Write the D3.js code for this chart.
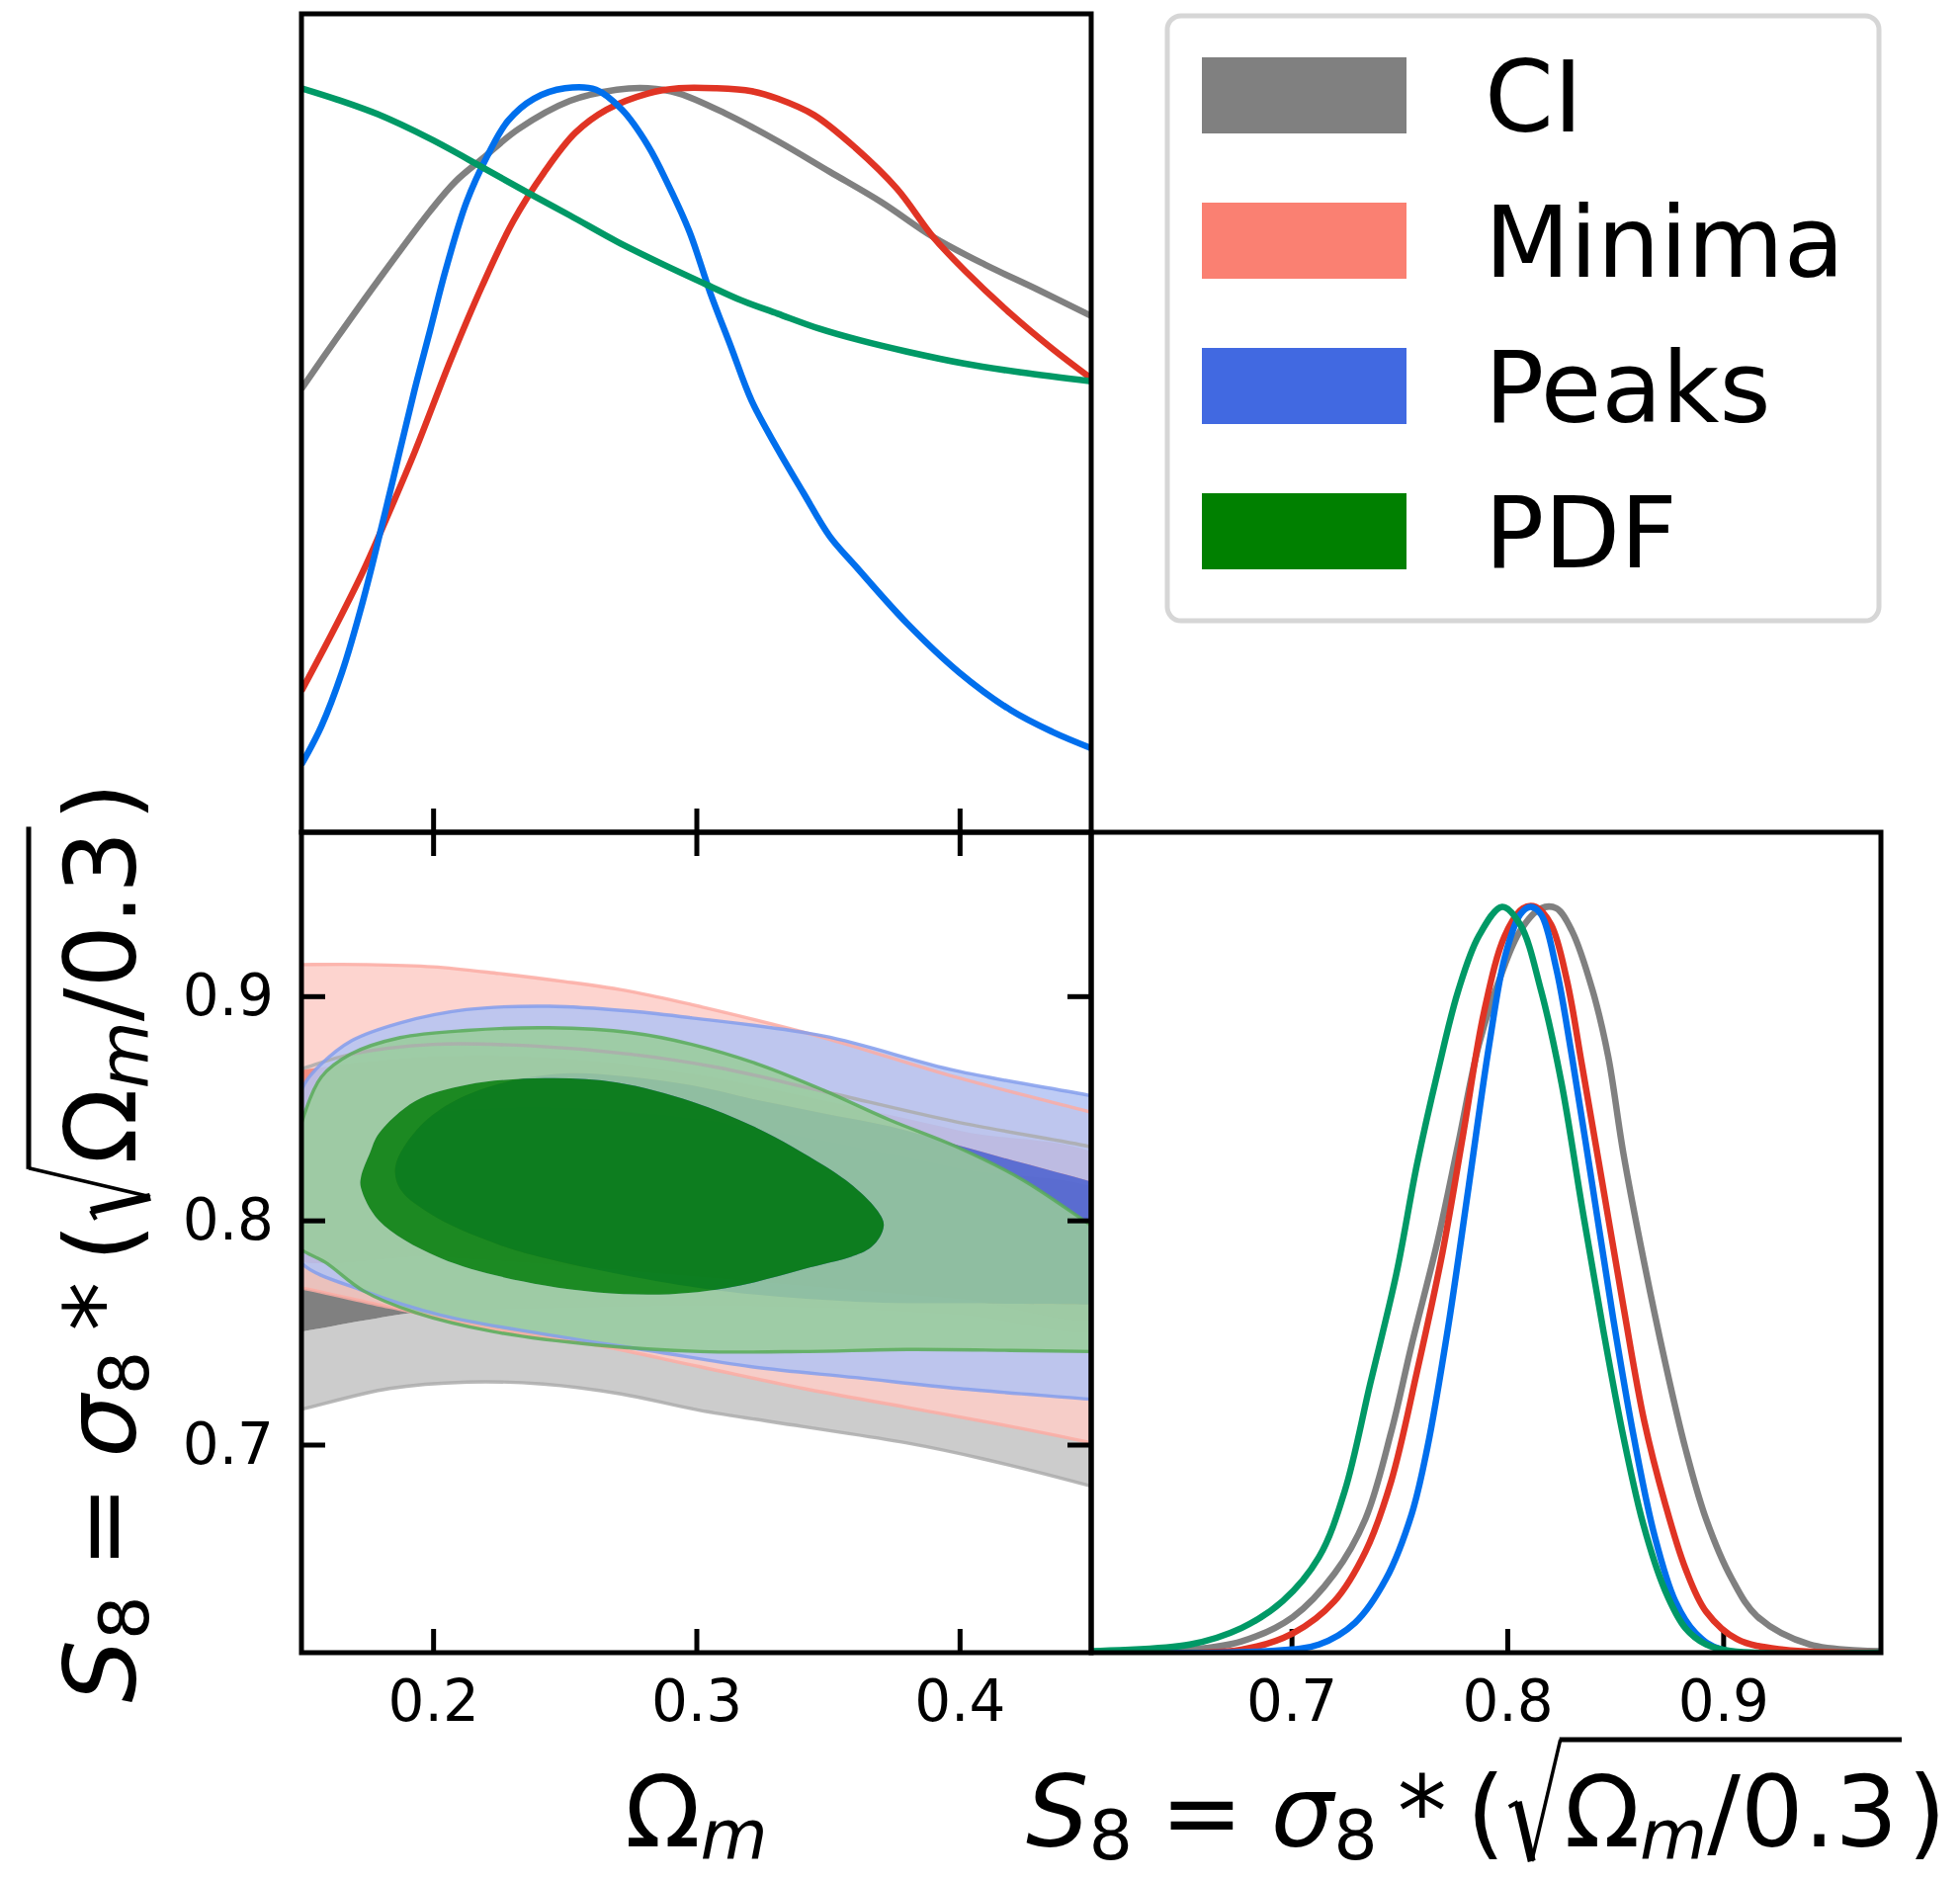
<!DOCTYPE html>
<html>
<head>
<meta charset="utf-8">
<script src="https://cdn.jsdelivr.net/npm/d3@7"></script>
<style>
  body { margin: 0; background: #fff; }
  svg { display: block; }
  text { font-family: "DejaVu Sans"; fill: #000; }
</style>
</head>
<body>
<script>
// ---- data ----
const series = ["CI", "Minima", "Peaks", "PDF"];
const lineColors = ["#808080", "#E03424", "#006FED", "#009966"];
const fillColors = ["#808080", "#FA8072", "#4169E1", "#008000"];
const omTicks = [0.2, 0.3, 0.4];
const s8Ticks = [0.7, 0.8, 0.9];

// 1D marginal of Omega_m (normalised to peak = 1)
const ciOmPdf = [[0.15,0.596],[0.1634,0.664],[0.179,0.741],[0.1989,0.835],[0.2086,0.875],[0.2186,0.905],[0.2324,0.945],[0.252,0.983],[0.2698,0.998],[0.2816,1.0],[0.2934,0.993],[0.3111,0.966],[0.3309,0.929],[0.3506,0.888],[0.3703,0.847],[0.39,0.80],[0.4096,0.763],[0.4293,0.73],[0.45,0.694]];
const minOmPdf = [[0.15,0.19],[0.1614,0.266],[0.1733,0.35],[0.1811,0.412],[0.193,0.511],[0.2067,0.635],[0.2186,0.734],[0.2304,0.821],[0.2422,0.887],[0.254,0.94],[0.2658,0.971],[0.2816,0.993],[0.2934,1.0],[0.3072,1.0],[0.321,0.996],[0.3309,0.986],[0.3447,0.964],[0.3604,0.92],[0.3762,0.865],[0.39,0.80],[0.4017,0.756],[0.4194,0.697],[0.4352,0.65],[0.45,0.61]];
const peaksOmPdf = [[0.15,0.091],[0.1575,0.142],[0.1654,0.215],[0.1733,0.31],[0.1811,0.42],[0.187,0.507],[0.193,0.595],[0.1989,0.675],[0.2048,0.756],[0.2127,0.847],[0.2206,0.909],[0.2284,0.956],[0.2383,0.986],[0.2501,1.0],[0.2619,0.998],[0.2718,0.971],[0.2816,0.923],[0.2895,0.869],[0.2974,0.807],[0.3052,0.726],[0.3131,0.653],[0.321,0.58],[0.3309,0.515],[0.3407,0.456],[0.3506,0.398],[0.3604,0.358],[0.38,0.281],[0.3998,0.215],[0.4195,0.164],[0.4352,0.135],[0.45,0.113]];
const pdfOmPdf = [[0.15,1.0],[0.1634,0.985],[0.179,0.965],[0.1989,0.932],[0.2186,0.894],[0.2363,0.859],[0.252,0.829],[0.2698,0.794],[0.2875,0.763],[0.3033,0.737],[0.317,0.715],[0.3309,0.697],[0.3466,0.677],[0.3624,0.661],[0.38,0.646],[0.4017,0.63],[0.4234,0.618],[0.45,0.606]];

// 1D marginal of S8
const ciS8Pdf = [[0.6072,0.0],[0.6529,0.004],[0.6768,0.015],[0.7007,0.048],[0.7199,0.106],[0.7342,0.179],[0.7462,0.296],[0.7557,0.413],[0.7677,0.552],[0.7773,0.683],[0.7868,0.815],[0.7964,0.903],[0.806,0.968],[0.8156,0.998],[0.8227,0.998],[0.8299,0.968],[0.8395,0.888],[0.8467,0.80],[0.8538,0.669],[0.8634,0.523],[0.873,0.391],[0.8825,0.274],[0.8921,0.179],[0.904,0.099],[0.916,0.048],[0.94,0.011],[0.9731,0.002]];
const minS8Pdf = [[0.6072,0.0],[0.6768,0.004],[0.7007,0.026],[0.7199,0.069],[0.7342,0.135],[0.7462,0.23],[0.7581,0.376],[0.77,0.537],[0.7797,0.698],[0.7892,0.859],[0.7988,0.961],[0.8072,0.998],[0.8132,1.0],[0.8203,0.976],[0.8275,0.903],[0.8347,0.786],[0.8443,0.625],[0.8538,0.464],[0.8634,0.311],[0.873,0.201],[0.8825,0.113],[0.8921,0.055],[0.9065,0.018],[0.928,0.004],[0.9731,0.0]];
const peaksS8Pdf = [[0.6072,0.0],[0.6888,0.002],[0.7127,0.011],[0.7294,0.04],[0.7438,0.099],[0.7557,0.186],[0.7629,0.274],[0.7725,0.435],[0.7821,0.625],[0.7916,0.815],[0.7988,0.932],[0.806,0.99],[0.8108,1.0],[0.8156,0.99],[0.8227,0.917],[0.8299,0.80],[0.8395,0.625],[0.849,0.449],[0.8586,0.289],[0.8682,0.157],[0.8778,0.069],[0.8873,0.026],[0.8993,0.004],[0.9731,0.0]];
const pdfS8Pdf = [[0.6072,0.002],[0.6529,0.011],[0.6768,0.033],[0.6959,0.069],[0.7127,0.128],[0.7246,0.216],[0.7366,0.362],[0.7486,0.508],[0.7581,0.654],[0.7677,0.778],[0.7773,0.888],[0.7868,0.961],[0.7976,1.0],[0.806,0.976],[0.8156,0.888],[0.8251,0.764],[0.8347,0.596],[0.8443,0.435],[0.8538,0.289],[0.863,0.172],[0.873,0.084],[0.8825,0.033],[0.8921,0.011],[0.904,0.002],[0.9731,0.0]];

// 2D contours (Omega_m, S8), closed rings: outer = 95%, inner = 68%
const ciOuter = [[0.14,0.864],[0.1503,0.8677],[0.1688,0.8741],[0.2,0.8785],[0.2376,0.8778],[0.2752,0.8741],[0.3077,0.8683],[0.3484,0.8575],[0.3985,0.844],[0.4491,0.833],[0.46,0.83],
                 [0.46,0.678],[0.4498,0.6815],[0.409,0.6936],[0.3796,0.7008],[0.3402,0.7081],[0.3009,0.7154],[0.2714,0.7226],[0.2419,0.727],[0.2129,0.7279],[0.1834,0.725],[0.1503,0.7158],[0.14,0.713]];
const ciInner = [[0.14,0.836],[0.2,0.848],[0.25,0.85],[0.3,0.845],[0.35,0.835],[0.4,0.823],[0.46,0.808],
                 [0.46,0.754],[0.4,0.758],[0.35,0.761],[0.3,0.762],[0.25,0.761],[0.1932,0.7589],[0.1735,0.7553],[0.15,0.7504],[0.14,0.749]];
const minOuter = [[0.14,0.914],[0.15,0.9141],[0.175,0.9141],[0.2,0.9131],[0.2251,0.9101],[0.2501,0.9065],[0.2752,0.9021],[0.2983,0.8962],[0.3484,0.8815],[0.3985,0.8639],[0.4491,0.8485],[0.46,0.845],
                  [0.46,0.698],[0.4499,0.7008],[0.4194,0.7081],[0.38,0.7166],[0.3407,0.725],[0.3014,0.7347],[0.262,0.7444],[0.2227,0.7516],[0.1834,0.7613],[0.1503,0.7698],[0.14,0.772]];
const minInner = [[0.14,0.865],[0.15,0.867],[0.2,0.873],[0.25,0.872],[0.3,0.865],[0.35,0.853],[0.4,0.84],[0.46,0.823],
                  [0.46,0.759],[0.4,0.765],[0.35,0.77],[0.3,0.775],[0.25,0.78],[0.2,0.784],[0.14,0.787]];
const peaksOuter = [[0.1512,0.8609],[0.1575,0.8697],[0.1688,0.88],[0.1875,0.8881],[0.2126,0.894],[0.2439,0.8955],[0.2752,0.8933],[0.2983,0.8903],[0.3484,0.8822],[0.3985,0.8668],[0.4491,0.8558],[0.46,0.853],
                    [0.46,0.719],[0.4499,0.7202],[0.3997,0.725],[0.3604,0.7299],[0.321,0.7347],[0.2817,0.742],[0.2424,0.7492],[0.203,0.7577],[0.1735,0.7686],[0.1503,0.7807],[0.1475,0.79],[0.146,0.82],[0.147,0.845]];
const peaksInner = [[0.1857,0.8242],[0.1938,0.8404],[0.2063,0.8521],[0.2251,0.8609],[0.25,0.8655],[0.275,0.864],[0.2983,0.8602],[0.3234,0.8536],[0.3484,0.8477],[0.3734,0.8419],[0.3985,0.8338],[0.4235,0.8257],[0.4491,0.8176],[0.46,0.814],
                    [0.46,0.762],[0.45,0.7625],[0.4,0.763],[0.3604,0.7637],[0.3014,0.7698],[0.2376,0.7846],[0.2188,0.7919],[0.2,0.8022],[0.1875,0.814]];
const pdfOuter = [[0.1512,0.8477],[0.1575,0.8639],[0.1688,0.8742],[0.1875,0.8815],[0.2126,0.8847],[0.2439,0.8859],[0.2752,0.8837],[0.2983,0.8785],[0.3234,0.8697],[0.3484,0.858],[0.3734,0.8448],[0.3985,0.833],[0.4235,0.8184],[0.4491,0.7985],[0.46,0.79],
                  [0.46,0.7415],[0.45,0.7415],[0.4194,0.742],[0.38,0.7424],[0.3407,0.7415],[0.3014,0.7415],[0.262,0.7444],[0.2227,0.7504],[0.1932,0.7589],[0.1735,0.7686],[0.1598,0.7807],[0.1475,0.79],[0.146,0.81],[0.1475,0.83]];
const pdfInner = [[0.1726,0.8193],[0.176,0.83],[0.1794,0.8387],[0.1932,0.8532],[0.2129,0.8605],[0.2424,0.8634],[0.27,0.8615],[0.2983,0.853],[0.3234,0.841],[0.3484,0.8245],[0.3609,0.814],[0.369,0.804],[0.3712,0.7976],[0.3663,0.7879],[0.3407,0.7782],[0.3112,0.7698],[0.2817,0.7669],[0.2424,0.771],[0.203,0.7831],[0.1794,0.8],[0.1726,0.8145]];

const omPdfs = [ciOmPdf, minOmPdf, peaksOmPdf, pdfOmPdf];
const s8Pdfs = [ciS8Pdf, minS8Pdf, peaksS8Pdf, pdfS8Pdf];
const outers = [ciOuter, minOuter, peaksOuter, pdfOuter];
const inners = [ciInner, minInner, peaksInner, pdfInner];

// ---- layout ----
const W = 1983, H = 1902;
const xL = 305, xM = 1104, xR = 1903, yT = 14, yM = 842, yB = 1672;
const omDomain = [0.15, 0.45], s8Domain = [0.6072, 0.9731];

const svg = d3.select("body").append("svg").attr("width", W).attr("height", H);

const xOm = d3.scaleLinear().domain(omDomain).range([xL, xM]);
const yS8 = d3.scaleLinear().domain(s8Domain).range([yB, yM]);
const xS8 = d3.scaleLinear().domain(s8Domain).range([xM, xR]);
const yTop = d3.scaleLinear().domain([0, 1.1]).range([yM, yT]);
const yBR = d3.scaleLinear().domain([0, 1.1]).range([yB, yM]);

const defs = svg.append("defs");
function clip(id, x, y, w, h) {
  defs.append("clipPath").attr("id", id).append("rect").attr("x", x).attr("y", y).attr("width", w).attr("height", h);
  return `url(#${id})`;
}
const clipTop = clip("cTop", xL, yT, xM - xL, yM - yT);
const clip2d = clip("c2d", xL, yM, xM - xL, yB - yM);
const clipBR = clip("cBR", xM, yM, xR - xM, yB - yM);

function styleAxis(g) {
  g.select(".domain").remove();
  g.selectAll(".tick line").attr("stroke", "#000").attr("stroke-width", 5);
  g.attr("font-size", 58).attr("font-family", "DejaVu Sans");
  g.selectAll(".tick text").attr("fill", "#000");
}
const fmt = d3.format(".1f");

// ---- 2D panel: filled contours ----
const ring = d3.line().x(d => xOm(d[0])).y(d => yS8(d[1])).curve(d3.curveCatmullRomClosed.alpha(0.5));
const g2d = svg.append("g").attr("clip-path", clip2d);
outers.forEach((o, i) => {
  const op = i === 0 ? 1 : 0.85;
  const pale = d3.interpolateRgb(fillColors[i], "#fff")(0.6);
  g2d.append("path").attr("d", ring(o) + ring(inners[i])).attr("fill-rule", "evenodd")
    .attr("fill", pale).attr("fill-opacity", op);
  g2d.append("path").attr("d", ring(inners[i])).attr("fill", fillColors[i]).attr("fill-opacity", op);
});

// ticks of 2D panel
svg.append("g").attr("transform", `translate(0,${yB})`)
  .call(d3.axisBottom(xOm).tickValues(omTicks).tickFormat(fmt).tickSizeInner(-24).tickSizeOuter(0).tickPadding(28))
  .call(styleAxis);
svg.append("g").attr("transform", `translate(0,${yM})`)
  .call(d3.axisTop(xOm).tickValues(omTicks).tickFormat("").tickSizeInner(-24).tickSizeOuter(0))
  .call(styleAxis);
svg.append("g").attr("transform", `translate(${xL},0)`)
  .call(d3.axisLeft(yS8).tickValues(s8Ticks).tickFormat(fmt).tickSizeInner(-24).tickSizeOuter(0).tickPadding(28))
  .call(styleAxis);
svg.append("g").attr("transform", `translate(${xM},0)`)
  .call(d3.axisRight(yS8).tickValues(s8Ticks).tickFormat("").tickSizeInner(-24).tickSizeOuter(0))
  .call(styleAxis);

// contour edge lines
outers.forEach((o, i) => {
  g2d.append("path").attr("d", ring(o)).attr("fill", "none")
    .attr("stroke", d3.interpolateRgb(fillColors[i], "#fff")(0.35))
    .attr("stroke-opacity", 0.85).attr("stroke-width", 3.4);
});

// ---- top 1D panel (Omega_m) ----
svg.append("g").attr("transform", `translate(0,${yM})`)
  .call(d3.axisBottom(xOm).tickValues(omTicks).tickFormat("").tickSizeInner(-24).tickSizeOuter(0))
  .call(styleAxis);
const lineTop = d3.line().x(d => xOm(d[0])).y(d => yTop(d[1])).curve(d3.curveCatmullRom.alpha(0.5));
const gTop = svg.append("g").attr("clip-path", clipTop);
omPdfs.forEach((p, i) => {
  gTop.append("path").attr("d", lineTop(p)).attr("fill", "none")
    .attr("stroke", lineColors[i]).attr("stroke-width", 6.5).attr("stroke-linejoin", "round");
});

// ---- bottom-right 1D panel (S8) ----
svg.append("g").attr("transform", `translate(0,${yB})`)
  .call(d3.axisBottom(xS8).tickValues(s8Ticks).tickFormat(fmt).tickSizeInner(-24).tickSizeOuter(0).tickPadding(28))
  .call(styleAxis);
const lineBR = d3.line().x(d => xS8(d[0])).y(d => yBR(d[1])).curve(d3.curveCatmullRom.alpha(0.5));
const gBR = svg.append("g").attr("clip-path", clipBR);
s8Pdfs.forEach((p, i) => {
  gBR.append("path").attr("d", lineBR(p)).attr("fill", "none")
    .attr("stroke", lineColors[i]).attr("stroke-width", 6.5).attr("stroke-linejoin", "round");
});

// panel frames
[[xL, yT, xM, yM], [xL, yM, xM, yB], [xM, yM, xR, yB]].forEach(([a, b, c, d]) => {
  svg.append("rect").attr("x", a).attr("y", b).attr("width", c - a).attr("height", d - b)
    .attr("fill", "none").attr("stroke", "#000").attr("stroke-width", 5);
});

// ---- math-style axis labels ----
const F = 100;
const s8Label = [{t: "S", it: 1}, {t: "8", sub: 1}, {space: 0.28}, {t: "="}, {space: 0.28},
  {t: "σ", it: 1}, {t: "8", sub: 1}, {space: 0.2}, {t: "*"}, {space: 0.2}, {t: "("},
  {sqrt: "open"}, {t: "Ω"}, {t: "m", it: 1, sub: 1}, {t: "/"}, {t: "0.3"}, {sqrt: "close"}, {t: ")"}];
const omLabel = [{t: "Ω"}, {t: "m", it: 1, sub: 1}];

function mathLabel(g, parts) {
  let x = 0, barStart = 0;
  parts.forEach(p => {
    if (p.space) { x += p.space * F; return; }
    if (p.sqrt === "open") {
      const x0 = x + 0.04 * F;
      g.append("path").attr("d", `M${x0},${-0.4 * F}L${x0 + 0.09 * F},${-0.45 * F}`)
        .attr("stroke", "#000").attr("stroke-width", 4).attr("fill", "none");
      g.append("path").attr("d", `M${x0 + 0.09 * F},${-0.45 * F}L${x0 + 0.23 * F},${0.15 * F}`)
        .attr("stroke", "#000").attr("stroke-width", 8).attr("fill", "none");
      g.append("path").attr("d", `M${x0 + 0.23 * F},${0.15 * F}L${x0 + 0.52 * F},${-1.08 * F}`)
        .attr("stroke", "#000").attr("stroke-width", 3.5).attr("fill", "none");
      barStart = x0 + 0.51 * F;
      x = x0 + 0.56 * F;
      return;
    }
    if (p.sqrt === "close") {
      x += 0.04 * F;
      g.append("rect").attr("x", barStart).attr("y", -1.105 * F).attr("width", x - barStart).attr("height", 5).attr("fill", "#000");
      x += 0.06 * F;
      return;
    }
    const t = g.append("text").attr("x", x).attr("y", p.sub ? 0.13 * F : 0)
      .attr("font-size", p.sub ? 0.7 * F : F)
      .attr("font-style", p.it ? "italic" : "normal").text(p.t);
    x += t.node().getComputedTextLength();
  });
  return x;
}

const gx1 = svg.append("g");
const w1 = mathLabel(gx1, omLabel);
gx1.attr("transform", `translate(${(xL + xM) / 2 - w1 / 2},1868)`);

const gx2 = svg.append("g");
const w2 = mathLabel(gx2, s8Label);
gx2.attr("transform", `translate(${(xM + xR) / 2 - w2 / 2},1868)`);

const gy = svg.append("g");
const w3 = mathLabel(gy, s8Label);
gy.attr("transform", `translate(137,${(yM + yB) / 2 + w3 / 2}) rotate(-90)`);

// ---- legend ----
const legY = d3.scalePoint().domain(series).range([96.5, 537.5]);
const leg = svg.append("g");
leg.append("rect").attr("x", 1181).attr("y", 16).attr("width", 720).attr("height", 612).attr("rx", 14)
  .attr("fill", "#fff").attr("stroke", "#d6d6d6").attr("stroke-width", 5);
series.forEach((s, i) => {
  const cy = legY(s);
  leg.append("rect").attr("x", 1216).attr("y", cy - 38.5).attr("width", 207).attr("height", 77).attr("fill", fillColors[i]);
  leg.append("text").attr("x", 1502).attr("y", cy + 36.5).attr("font-size", 100).text(s);
});
</script>
</body>
</html>
